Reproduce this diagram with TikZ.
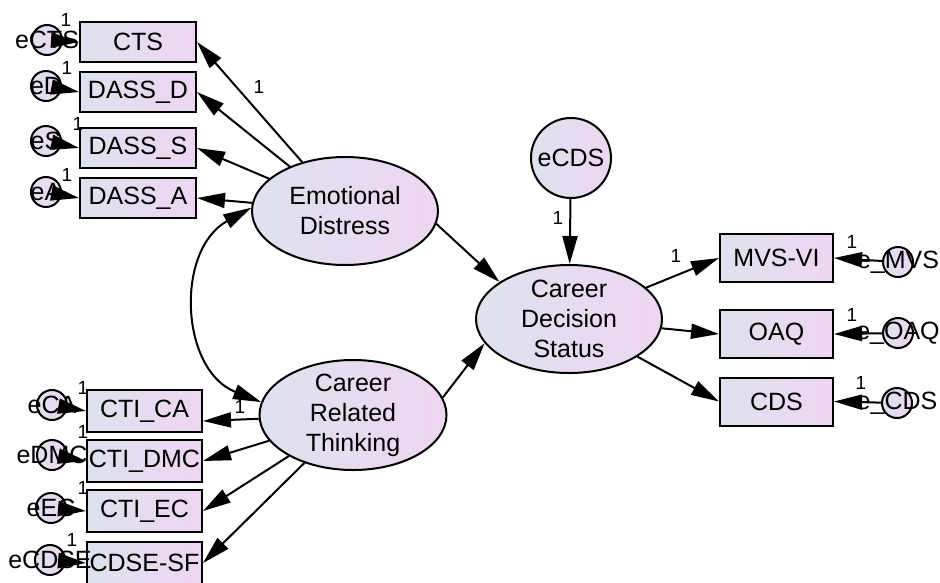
\documentclass[tikz,border=0pt]{standalone}
\usepackage{fontspec}
\setmainfont{Liberation Sans}
\usetikzlibrary{arrows.meta,shapes.geometric}
\definecolor{fillL}{RGB}{222,226,238}
\definecolor{fillR}{RGB}{238,214,242}
\begin{document}
\begin{tikzpicture}[x=1pt,y=-1pt,
  base/.style={draw,line width=2pt,left color=fillL,right color=fillR,inner sep=0pt},
  boxL/.style={base,minimum width=116pt,minimum height=40pt,font=\fontsize{25}{28}\selectfont},
  boxB/.style={base,minimum width=115pt,minimum height=42pt,font=\fontsize{25}{28}\selectfont},
  boxR/.style={base,minimum width=113pt,minimum height=48pt,font=\fontsize{25}{28}\selectfont},
  lat/.style={base,ellipse,minimum width=186pt,minimum height=108pt},
  latxt/.style={align=center,inner sep=0pt,font=\fontsize{25}{30}\selectfont},
  errc/.style={base,circle,minimum size=30pt},
  errtxt/.style={inner sep=0pt,font=\fontsize{25}{28}\selectfont},
  one/.style={inner sep=0pt,font=\fontsize{19}{20}\selectfont},
  arr/.style={line width=2pt,-{Triangle[length=28pt,width=15pt]}},
  cov/.style={line width=2pt,{Triangle[length=28pt,width=15pt]}-{Triangle[length=28pt,width=15pt]}}
]
\useasboundingbox (0,0) rectangle (940,582);

% latent variables
\node[lat] (ED) at (345,211) {};
\node[latxt] (EDt) at (ED) {Emotional\\Distress};
\node[lat] (CDS) at (569,319) {};
\node[latxt] (CDSt) at (CDS) {Career\\Decision\\Status};
\node[lat,minimum width=187pt,minimum height=110pt] (CRT) at (353,415) {};
\node[latxt] (CRTt) at (CRT) {Career\\Related\\Thinking};
\node[base,circle,minimum size=80pt] (eCDS) at (571,158) {};
\node[errtxt] (eCDSt) at (eCDS) {eCDS};

% left top observed
\node[boxL] (CTS) at (138,42) {CTS};
\node[boxL] (DD) at (138,92) {DASS\_D};
\node[boxL] (DS) at (138,148) {DASS\_S};
\node[boxL] (DA) at (138,198) {DASS\_A};

% left bottom observed
\node[boxB] (CA) at (144.5,411) {CTI\_CA};
\node[boxB] (DMC) at (144.5,461) {CTI\_DMC};
\node[boxB] (EC) at (144.5,511) {CTI\_EC};
\node[boxB] (CDSE) at (144.5,563) {CDSE-SF};

% right observed
\node[boxR] (MVS) at (776.5,258) {MVS-VI};
\node[boxR] (OAQ) at (776.5,334) {OAQ};
\node[boxR] (CDSb) at (776.5,401.5) {CDS};

% error circles
\node[errc] (eCTS) at (47,40) {};
\node[errc] (eD) at (46,86) {};
\node[errc] (eS) at (46,141) {};
\node[errc] (eA) at (46,192) {};
\node[errc] (eCA) at (52,405) {};
\node[errc] (eDMC) at (52,455) {};
\node[errc] (eEC) at (51,508) {};
\node[errc] (eCDSE) at (50,560) {};
\node[errc] (eMVS) at (898,262) {};
\node[errc] (eOAQ) at (898,333) {};
\node[errc] (eCDSr) at (897,403) {};

\node[errtxt] (eCTSt) at (eCTS) {eCTS};
\node[errtxt] (eDt) at (eD) {eD};
\node[errtxt] (eSt) at (eS) {eS};
\node[errtxt] (eAt) at (eA) {eA};
\node[errtxt] (eCAt) at (eCA) {eCA};
\node[errtxt] (eDMCt) at (eDMC) {eDMC};
\node[errtxt] (eECt) at (eEC) {eEC};
\node[errtxt] (eCDSEt) at (eCDSE) {eCDSE};
\node[errtxt] (eMVSt) at (eMVS) {e\_MVS};
\node[errtxt] (eOAQt) at (eOAQ) {e\_OAQ};
\node[errtxt] (eCDSrt) at (eCDSr) {e\_CDS};

% error arrows
\draw[arr] (eCTS) -- (CTS.west);
\draw[arr] (eD) -- (DD.west);
\draw[arr] (eS) -- (DS.west);
\draw[arr] (eA) -- (DA.west);
\draw[arr] (eCA) -- (CA.west);
\draw[arr] (eDMC) -- (DMC.west);
\draw[arr] (eEC) -- (EC.west);
\draw[arr] (eCDSE) -- (CDSE.west);
\draw[arr] (eMVS) -- (MVS.east);
\draw[arr] (eOAQ) -- (OAQ.east);
\draw[arr] (eCDSr) -- (CDSb.east);
\draw[arr] (eCDS) -- (CDS);

% loadings
\draw[arr] (ED) -- (CTS.east);
\draw[arr] (ED) -- (DD.east);
\draw[arr] (ED) -- (DS.east);
\draw[arr] (ED) -- (DA.east);
\draw[arr] (CRT) -- ([yshift=-10pt]CA.east);
\draw[arr] (CRT) -- (DMC.east);
\draw[arr] (CRT) -- (EC.east);
\draw[arr] (CRT) -- (CDSE.east);
\draw[arr] (CDS) -- (MVS.west);
\draw[arr] (CDS) -- (OAQ.west);
\draw[arr] (CDS) -- (CDSb.west);

% structural paths
\draw[arr] (ED.-8) -- (CDS.152);
\draw[arr] (CRT.11) -- (CDS.196);

% covariance
\draw[cov] (ED.178) .. controls (175,250) and (180,370) .. (CRT.172);

% fixed-parameter labels
\node[one] (o1) at (66,20) {1};
\node[one] (o2) at (67,68) {1};
\node[one] (o3) at (78,124) {1};
\node[one] (o4) at (67,175) {1};
\node[one] (o5) at (83,388) {1};
\node[one] (o6) at (83,432) {1};
\node[one] (o7) at (83,488) {1};
\node[one] (o8) at (72,540) {1};
\node[one] (o9) at (852,242) {1};
\node[one] (o10) at (852,315) {1};
\node[one] (o11) at (861,383) {1};
\node[one] (o12) at (259,87) {1};
\node[one] (o13) at (558,218) {1};
\node[one] (o14) at (676,256) {1};
\node[one] (o15) at (240,407) {1};
\end{tikzpicture}
\end{document}
